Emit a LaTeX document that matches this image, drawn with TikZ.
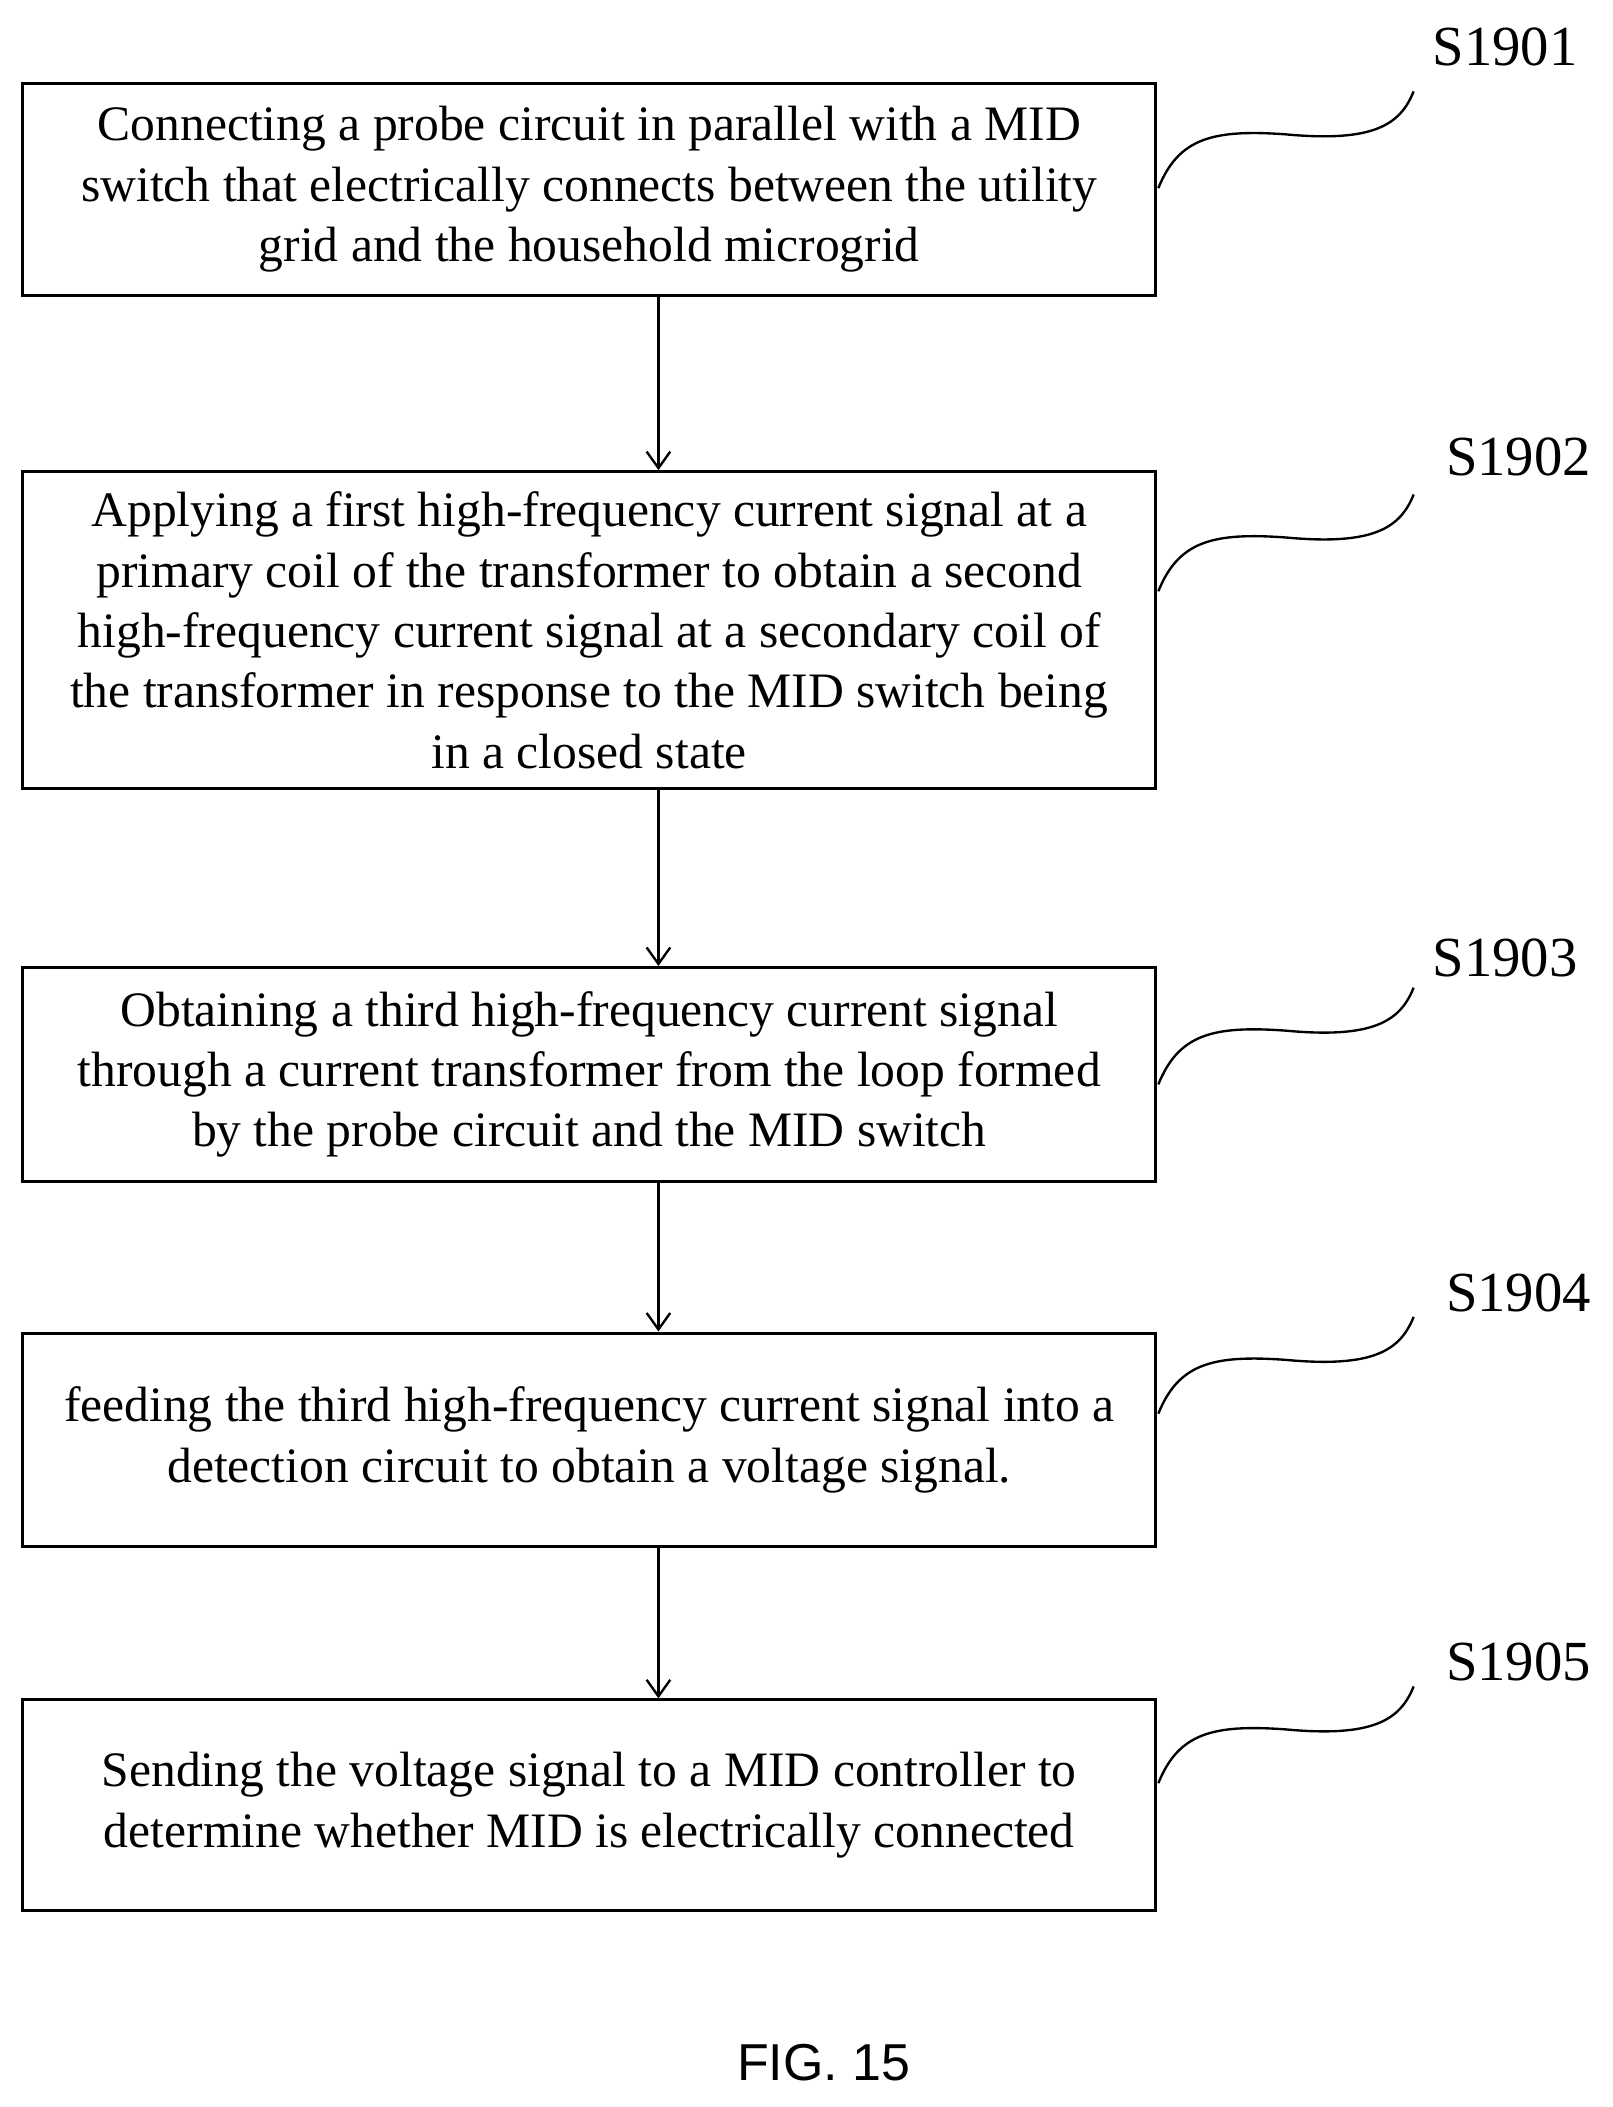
\documentclass[tikz,border=0pt]{standalone}
\usepackage{fontspec}
\usetikzlibrary{arrows.meta,calc}
\setmainfont{Liberation Serif}
\newfontfamily\figfont{Liberation Sans}
\begin{document}
\begin{tikzpicture}[x=0.02cm,y=-0.02cm,
  box/.style={draw,line width=1.3pt,minimum width=16.86cm,align=center,inner sep=0pt,font=\fontsize{21}{25.6}\selectfont},
  lab/.style={font=\fontsize{24}{26}\selectfont},
  arr/.style={-{Straight Barb[length=7pt,width=10pt]},line width=1pt},
  wav/.style={line width=1pt}]
\useasboundingbox (0,0) rectangle (1200,1568);
\node[box,minimum height=3.16cm] (b1) at (438.5,141) {Connecting a probe circuit in parallel with a MID\\switch that electrically connects between the utility\\grid and the household microgrid};
\node[box,minimum height=4.72cm] (b2) at (438.5,469) {Applying a first high-frequency current signal at a\\primary coil of the transformer to obtain a second\\high-frequency current signal at a secondary coil of\\the transformer in response to the MID switch being\\in a closed state};
\node[box,minimum height=3.18cm] (b3) at (438.5,799.5) {Obtaining a third high-frequency current signal\\through a current transformer from the loop formed\\by the probe circuit and the MID switch};
\node[box,minimum height=3.18cm] (b4) at (438.5,1071.5) {feeding the third high-frequency current signal into a\\detection circuit to obtain a voltage signal.};
\node[box,minimum height=3.14cm] (b5) at (438.5,1343.5) {Sending the voltage signal to a MID controller to\\determine whether MID is electrically connected};
\draw[arr] (b1.south -| 490,0) -- (b2.north -| 490,0);
\draw[arr] (b2.south -| 490,0) -- (b3.north -| 490,0);
\draw[arr] (b3.south -| 490,0) -- (b4.north -| 490,0);
\draw[arr] (b4.south -| 490,0) -- (b5.north -| 490,0);
\node[lab] (l1) at (1120,35) {S1901};
\node[lab] (l2) at (1130,340) {S1902};
\node[lab] (l3) at (1120,713) {S1903};
\node[lab] (l4) at (1130,962) {S1904};
\node[lab] (l5) at (1130,1237) {S1905};
\foreach \i/\y in {1/68,2/368,3/735,4/980,5/1255}{
  \coordinate (w\i) at (1052,\y);
  \draw[wav] ($(w\i)+(-190,72)$) .. controls ($(w\i)+(-175,35)$) and ($(w\i)+(-150,28)$) .. ($(w\i)+(-95,32)$) .. controls ($(w\i)+(-30,38)$) and ($(w\i)+(-10,25)$) .. (w\i);
}
\node[font=\figfont\fontsize{22}{26}\selectfont] (fig) at (613,1535) {FIG. 15};
\end{tikzpicture}
\end{document}
